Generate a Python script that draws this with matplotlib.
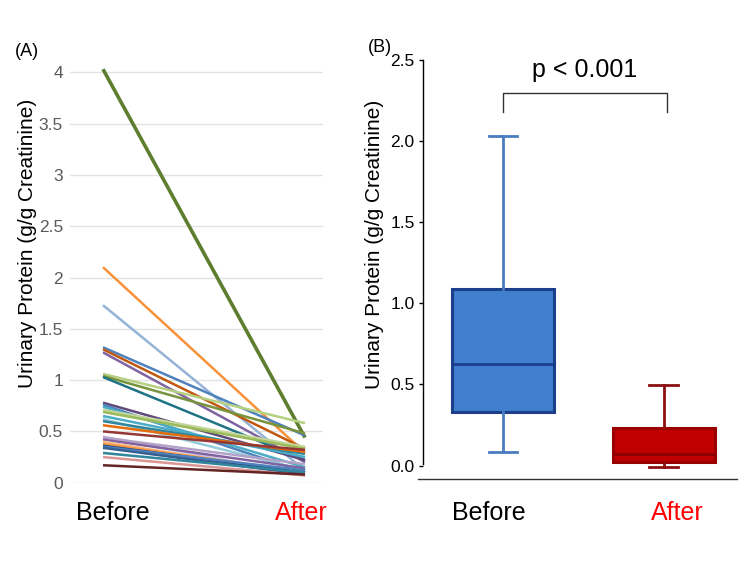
import matplotlib
matplotlib.use("Agg")
import matplotlib.pyplot as plt
from matplotlib.lines import Line2D

plt.rcParams['font.family'] = ['Liberation Sans', 'DejaVu Sans']

# ---- Panel A data: paired values (g/g creatinine) ----
before_vals = [4.03, 2.10, 1.73, 1.32, 1.30, 1.27, 1.06, 1.04, 1.03, 0.78,
               0.76, 0.74, 0.71, 0.69, 0.65, 0.62, 0.60, 0.56, 0.50, 0.45,
               0.44, 0.42, 0.40, 0.38, 0.36, 0.35, 0.34, 0.29, 0.25, 0.17]
after_vals = [0.44, 0.29, 0.12, 0.46, 0.33, 0.20, 0.58, 0.48, 0.22, 0.22,
              0.10, 0.15, 0.35, 0.33, 0.25, 0.12, 0.28, 0.30, 0.32, 0.07,
              0.18, 0.14, 0.08, 0.10, 0.10, 0.12, 0.08, 0.10, 0.07, 0.08]
line_colors = ['#5e7d2e', '#f7923a', '#95b3d7', '#4f81bd', '#c0580f', '#8064a2',
               '#b5d080', '#77933c', '#1f7385', '#604a7b', '#4f81bd', '#4bacc6',
               '#c3d69b', '#9bbb59', '#4bacc6', '#93cddd', '#31859c', '#e46c0a',
               '#953735', '#ccc1da', '#b3a2c7', '#8064a2', '#fac090', '#f79646',
               '#1f497d', '#4f81bd', '#376092', '#31859c', '#d99694', '#632523']
a_yticks = [0, 0.5, 1, 1.5, 2, 2.5, 3, 3.5, 4]
a_yticklabels = ['0', '0.5', '1', '1.5', '2', '2.5', '3', '3.5', '4']

# ---- Panel B data: box plot summary ----
groups = ['Before', 'After']
q1_vals = [0.332, 0.024]
med_vals = [0.624, 0.073]
q3_vals = [1.088, 0.230]
whislo_vals = [0.082, -0.01]
whishi_vals = [2.03, 0.497]
b_yticks = [0.0, 0.5, 1.0, 1.5, 2.0, 2.5]

W, H = 750, 563
fig = plt.figure(figsize=(7.5, 5.63), dpi=100)

def fx(px):
    return px / W

def fy(py):
    return 1 - py / H

ylabel_text = 'Urinary Protein (g/g Creatinine)'

# ---------------- Panel A ----------------
a_left, a_right = 70, 323
a_zero, a_unit = 482.7, 102.6
a_ymax = 4.2
axA = fig.add_axes([fx(a_left), fy(a_zero), fx(a_right - a_left), a_ymax * a_unit / H])
x0px, x1px = 103, 305
upx = x1px - x0px
axA.set_xlim(-(x0px - a_left) / upx, 1 + (a_right - x1px) / upx)
axA.set_ylim(0, a_ymax)
for v in a_yticks:
    axA.axhline(v, color='#e3e3e3', lw=1.0, zorder=0)
for b, a, c in zip(before_vals, after_vals, line_colors):
    lw = 2.6 if b > 3 else 1.8
    axA.plot([0, 1], [b, a], color=c, lw=lw, solid_capstyle='butt')
for s in axA.spines.values():
    s.set_visible(False)
axA.set_yticks(a_yticks)
axA.set_yticklabels(a_yticklabels, fontsize=12.5, color='#5a5a5a')
axA.tick_params(axis='y', length=0, pad=5)
axA.set_xticks([])
fig.text(fx(28), fy(243), ylabel_text, rotation=90, ha='center', va='center', fontsize=15)
fig.text(fx(113), fy(513), 'Before', ha='center', va='center', fontsize=18, color='black')
fig.text(fx(301), fy(513), 'After', ha='center', va='center', fontsize=18, color='#ff0000')
fig.text(fx(27), fy(52), '(A)', ha='center', va='center', fontsize=13)

# ---------------- Panel B ----------------
b_left, b_right = 423, 737
b_zero, b_unit = 465.6, 162.3
b_bottom_px = 479
ymin = -(b_bottom_px - b_zero) / b_unit
ymax = 2.55
axB = fig.add_axes([fx(b_left), fy(b_bottom_px), fx(b_right - b_left),
                    (ymax - ymin) * b_unit / H])
bx1 = 503.0
bupx = 160.7
axB.set_xlim(1 - (bx1 - b_left) / bupx, 1 + (b_right - bx1) / bupx)
axB.set_ylim(ymin, ymax)

fills = ['#3f7fcd', '#c00000']
edges = ['#1c3f8c', '#990000']
whisk = ['#4a7cc0', '#8b1010']
meds = ['#1c3f8c', '#8b0000']
for i in range(2):
    st = [dict(label=groups[i], q1=q1_vals[i], med=med_vals[i], q3=q3_vals[i],
               whislo=whislo_vals[i], whishi=whishi_vals[i], fliers=[])]
    axB.bxp(st, positions=[i + 1], widths=0.635, capwidths=0.18, patch_artist=True,
            showfliers=False,
            boxprops=dict(facecolor=fills[i], edgecolor=edges[i], linewidth=2.2),
            medianprops=dict(color=meds[i], linewidth=2.0),
            whiskerprops=dict(color=whisk[i], linewidth=2.0),
            capprops=dict(color=whisk[i], linewidth=2.0))

axB.spines['top'].set_visible(False)
axB.spines['right'].set_visible(False)
axB.spines['bottom'].set_visible(False)
axB.spines['left'].set_bounds(0.01, 2.5)
axB.spines['left'].set_linewidth(1.0)
axB.set_yticks(b_yticks)
axB.set_yticklabels(['%.1f' % v for v in b_yticks], fontsize=12.5)
axB.tick_params(axis='y', length=3, width=1, pad=3)
axB.set_xticks([])
fig.text(fx(374), fy(244), ylabel_text, rotation=90, ha='center', va='center', fontsize=15)
fig.add_artist(Line2D([fx(418), fx(737)], [fy(479), fy(479)], color='#333333', lw=1.0))
fig.text(fx(489), fy(513), 'Before', ha='center', va='center', fontsize=18, color='black')
fig.text(fx(677), fy(513), 'After', ha='center', va='center', fontsize=18, color='#ff0000')
fig.text(fx(380), fy(47), '(B)', ha='center', va='center', fontsize=13)

# significance bracket
fig.add_artist(Line2D([fx(502.7), fx(502.7), fx(667.3), fx(667.3)],
                      [fy(111.7), fy(93.3), fy(93.3), fy(111.7)], color='#333333', lw=1.0))
fig.text(fx(585), fy(70), 'p < 0.001', ha='center', va='center', fontsize=18)

fig.savefig('out.png', dpi=100)
